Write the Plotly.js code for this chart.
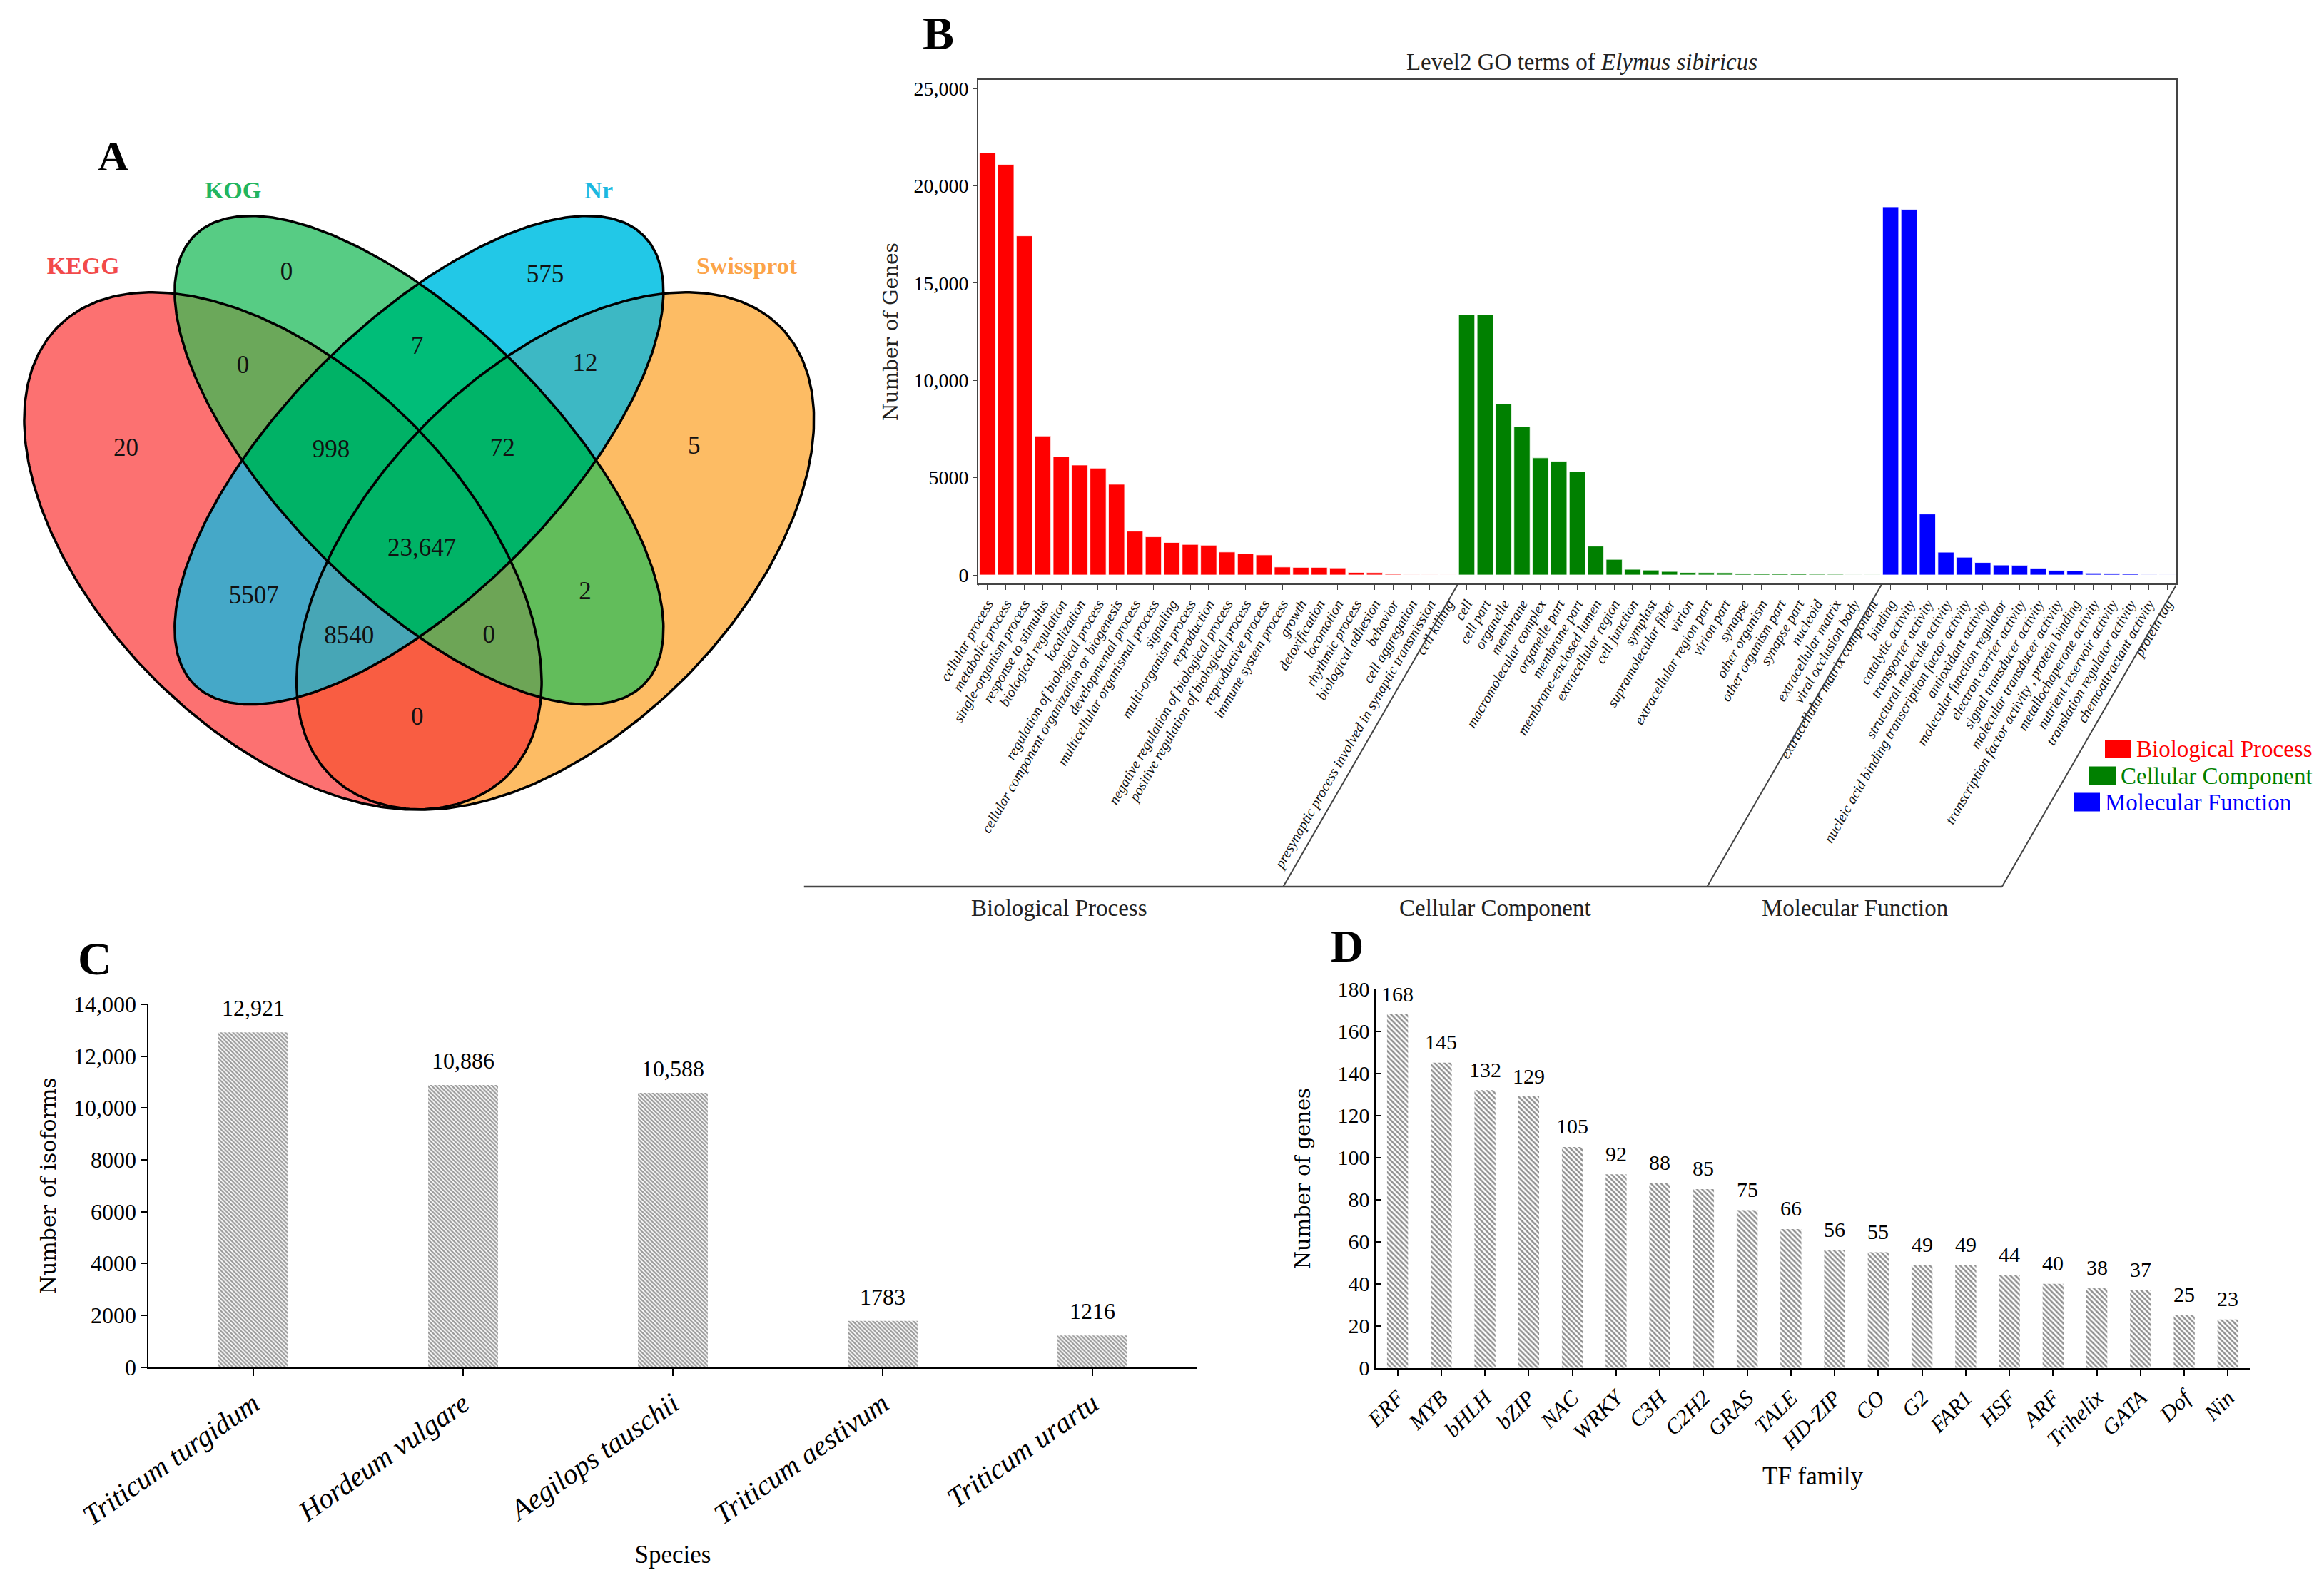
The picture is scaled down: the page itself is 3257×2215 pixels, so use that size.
<!DOCTYPE html>
<html><head><meta charset="utf-8">
<script src="https://cdn.plot.ly/plotly-3.0.1.min.js"></script>
<style>html,body{margin:0;padding:0;background:#fff}</style>
</head><body><div id="chart" style="width:3257px;height:2215px"></div>
<script>
// ================= DATA =================
// Panel A: Venn (region = membership of KEGG(K), KOG(G), Nr(N), Swissprot(S))
const vennSets = ['KEGG', 'KOG', 'Nr', 'Swissprot'];
const vennRegions = ['K','G','N','S','KG','KN','KS','GN','GS','NS','KGN','KGS','KNS','GNS','KGNS'];
const vennCounts  = [20, 0, 575, 5, 0, 5507, 0, 7, 2, 12, 998, 0, 8540, 72, 23647];

// Panel B: Level2 GO terms
const goGroups = ['Biological Process', 'Cellular Component', 'Molecular Function'];
const bpTerms = ['cellular process','metabolic process','single-organism process','response to stimulus','biological regulation','localization','regulation of biological process','cellular component organization or biogenesis','developmental process','multicellular organismal process','signaling','multi-organism process','reproduction','negative regulation of biological process','positive regulation of biological process','reproductive process','immune system process','growth','detoxification','locomotion','rhythmic process','biological adhesion','behavior','cell aggregation','presynaptic process involved in synaptic transmission','cell killing'];
const bpValues = [21700, 21100, 17430, 7140, 6080, 5650, 5490, 4660, 2250, 1960, 1670, 1570, 1530, 1180, 1090, 1030, 410, 390, 390, 360, 130, 120, 40, 10, 6, 3];
const ccTerms = ['cell','cell part','organelle','membrane','macromolecular complex','organelle part','membrane part','membrane-enclosed lumen','extracellular region','cell junction','symplast','supramolecular fiber','virion','extracellular region part','virion part','synapse','other organism','other organism part','synapse part','nucleoid','extracellular matrix','viral occlusion body','extracellular matrix component'];
const ccValues = [13380, 13380, 8790, 7610, 6020, 5840, 5320, 1480, 800, 290, 250, 180, 125, 120, 115, 75, 70, 65, 60, 40, 35, 15, 10];
const mfTerms = ['binding','catalytic activity','transporter activity','structural molecule activity','nucleic acid binding transcription factor activity','antioxidant activity','molecular function regulator','electron carrier activity','signal transducer activity','molecular transducer activity','transcription factor activity , protein binding','metallochaperone activity','nutrient reservoir activity','translation regulator activity','chemoattractant activity','protein tag'];
const mfValues = [18920, 18790, 3130, 1170, 910, 640, 510, 500, 350, 235, 215, 100, 80, 60, 20, 5];
const goTicks = [0, 5000, 10000, 15000, 20000, 25000];

// Panel C: homologous species
const species = ['Triticum turgidum', 'Hordeum vulgare', 'Aegilops tauschii', 'Triticum aestivum', 'Triticum urartu'];
const isoforms = [12921, 10886, 10588, 1783, 1216];
const isoTicks = [0, 2000, 4000, 6000, 8000, 10000, 12000, 14000];

// Panel D: TF families
const tfFamilies = ['ERF','MYB','bHLH','bZIP','NAC','WRKY','C3H','C2H2','GRAS','TALE','HD-ZIP','CO','G2','FAR1','HSF','ARF','Trihelix','GATA','Dof','Nin'];
const tfGenes = [168, 145, 132, 129, 105, 92, 88, 85, 75, 66, 56, 55, 49, 49, 44, 40, 38, 37, 25, 23];
const tfTicks = [0, 20, 40, 60, 80, 100, 120, 140, 160, 180];

// ================= STYLE / LAYOUT CONSTANTS =================
const W = 3257, H = 2215;
const px = x => x / W, py = y => 1 - y / H;
const SERIF = 'Liberation Serif, Times New Roman, serif';
const WIDE = 'DejaVu Serif, serif';
const fmt = v => v >= 10000 ? v.toLocaleString('en-US') : String(v);

const setColors = ['#F24A4A', '#22B55E', '#1CB8E0', '#FCA448'];
const regionColors = {K:'#FC7171', G:'#57CC84', N:'#22C8E7', S:'#FDBC64', KG:'#6BA85A', KN:'#45A8C8', KS:'#F95D42', GN:'#00BD78', GS:'#62BD5B', NS:'#3DB8C4', KGN:'#00B266', KGS:'#6DA556', KNS:'#47A6B6', GNS:'#00B468', KGNS:'#00B366'};
const goColors = ['#FF0000', '#008000', '#0000FF'];

// Venn geometry (unit square, VennDiagram quad layout)
const ellipses = [
  {cx:0.35, cy:0.47, a:0.35, b:0.20, rot:-45},
  {cx:0.50, cy:0.57, a:0.35, b:0.15, rot:-45},
  {cx:0.50, cy:0.57, a:0.35, b:0.15, rot: 45},
  {cx:0.65, cy:0.47, a:0.35, b:0.20, rot: 45}
];
const regionLabelPos = {K:[0.177,0.582], G:[0.354,0.776], N:[0.639,0.773], S:[0.803,0.584], KG:[0.306,0.673], KN:[0.318,0.419], KS:[0.498,0.285], GN:[0.498,0.694], GS:[0.683,0.424], NS:[0.683,0.675], KGN:[0.403,0.580], KGS:[0.577,0.376], KNS:[0.423,0.375], GNS:[0.592,0.582], KGNS:[0.503,0.472]};
const setLabelPos = [[0.130,0.782],[0.295,0.865],[0.698,0.865],[0.861,0.782]];
const U0 = 0.04, U1 = 0.96, V0 = 0.15, V1 = 0.90, STEP = 0.0015;
const VPX = 1272, VX0 = 34, VU0 = 0.065, VY0 = 303, VV0 = 0.839; // unit->pixel mapping

// ================= BUILD =================
const traces = [];
const letters = 'KGNS';
const code = r => letters.split('').reduce((s, c, i) => s + (r.includes(c) ? (1 << i) : 0), 0);

function inside(e, u, v) {
  const t = e.rot * Math.PI / 180, dx = u - e.cx, dy = v - e.cy;
  const xp = dx * Math.cos(t) + dy * Math.sin(t), yp = -dx * Math.sin(t) + dy * Math.cos(t);
  return xp * xp / (e.a * e.a) + yp * yp / (e.b * e.b) <= 1;
}
const hx = [], hy = [], hz = [];
for (let u = U0; u <= U1 + 1e-9; u += STEP) hx.push(u);
for (let v = V0; v <= V1 + 1e-9; v += STEP) hy.push(v);
for (const v of hy) {
  const row = [];
  for (const u of hx) {
    let c = 0;
    ellipses.forEach((e, i) => { if (inside(e, u, v)) c += (1 << i); });
    row.push(c === 0 ? null : c);
  }
  hz.push(row);
}
const byCode = {};
vennRegions.forEach(r => byCode[code(r)] = regionColors[r]);
const cs = [];
for (let k = 1; k <= 15; k++) { cs.push([(k - 1) / 15, byCode[k]]); cs.push([k / 15, byCode[k]]); }
traces.push({type:'heatmap', x:hx, y:hy, z:hz, xaxis:'x4', yaxis:'y4', colorscale:cs, zmin:0.5, zmax:15.5, showscale:false, zsmooth:false, hoverinfo:'skip'});

ellipses.forEach(e => {
  const xs = [], ys = [], t = e.rot * Math.PI / 180;
  for (let k = 0; k <= 360; k++) {
    const f = k * Math.PI / 180;
    xs.push(e.cx + e.a * Math.cos(f) * Math.cos(t) - e.b * Math.sin(f) * Math.sin(t));
    ys.push(e.cy + e.a * Math.cos(f) * Math.sin(t) + e.b * Math.sin(f) * Math.cos(t));
  }
  traces.push({type:'scatter', mode:'lines', x:xs, y:ys, xaxis:'x4', yaxis:'y4', line:{color:'#000', width:3.5}, hoverinfo:'skip', showlegend:false});
});
traces.push({type:'scatter', mode:'text', xaxis:'x4', yaxis:'y4', x:vennRegions.map(r => regionLabelPos[r][0]), y:vennRegions.map(r => regionLabelPos[r][1]), text:vennCounts.map(fmt), textfont:{family:SERIF, size:35, color:'#111'}, hoverinfo:'skip', showlegend:false});
traces.push({type:'scatter', mode:'text', xaxis:'x4', yaxis:'y4', x:setLabelPos.map(p => p[0]), y:setLabelPos.map(p => p[1]), text:vennSets.map(s => '<b>' + s + '</b>'), textfont:{family:SERIF, size:34, color:setColors}, hoverinfo:'skip', showlegend:false});

// Panel B bars
const goTermsAll = bpTerms.concat(ccTerms, mfTerms);
[[bpTerms, bpValues], [ccTerms, ccValues], [mfTerms, mfValues]].forEach((g, i) => {
  traces.push({type:'bar', name:goGroups[i], x:g[0], y:g[1], xaxis:'x', yaxis:'y', width:0.87, marker:{color:goColors[i], line:{color:'rgba(255,255,255,0.8)', width:1}}, showlegend:false, hoverinfo:'skip'});
});
// Panel C bars
traces.push({type:'bar', x:species, y:isoforms, xaxis:'x2', yaxis:'y2', width:0.333, marker:{color:'#ffffff', pattern:{shape:'\\', fillmode:'overlay', fgcolor:'#333333', size:4, solidity:0.55}}, showlegend:false, hoverinfo:'skip'});
// Panel D bars
traces.push({type:'bar', x:tfFamilies, y:tfGenes, xaxis:'x3', yaxis:'y3', width:0.48, marker:{color:'#ffffff', pattern:{shape:'\\', fillmode:'overlay', fgcolor:'#222222', size:5, solidity:0.5}}, showlegend:false, hoverinfo:'skip'});

// Annotations
const ann = [];
const letter = (t, x, y, s) => ann.push({text:'<b>' + t + '</b>', x:px(x), y:py(y), xref:'paper', yref:'paper', showarrow:false, font:{family:SERIF, size:s, color:'#000'}, xanchor:'center', yanchor:'middle'});
letter('A', 158, 219, 60); letter('B', 1315, 46, 66); letter('C', 133, 1343, 66); letter('D', 1888, 1326, 64);

species.forEach((s, i) => ann.push({x:s, y:isoforms[i], xref:'x2', yref:'y2', text:fmt(isoforms[i]), showarrow:false, yshift:34, yanchor:'middle', font:{family:SERIF, size:32, color:'#000'}}));
tfFamilies.forEach((s, i) => ann.push({x:s, y:tfGenes[i], xref:'x3', yref:'y3', text:fmt(tfGenes[i]), showarrow:false, yshift:29, yanchor:'middle', font:{family:SERIF, size:30, color:'#000'}}));

// B group brackets
const SLANT_DY = 423, SLANT_DX = SLANT_DY / Math.tan(60 * Math.PI / 180);
const groupSizes = [bpTerms.length, ccTerms.length, mfTerms.length];
const bounds = [-0.5];
groupSizes.forEach(n => bounds.push(bounds[bounds.length - 1] + n));
const shapes = [];
bounds.forEach(b => shapes.push({type:'line', xref:'x', xsizemode:'pixel', xanchor:b, x0:0, x1:-SLANT_DX, yref:'paper', y0:py(820), y1:py(820 + SLANT_DY), line:{color:'#444', width:2}}));
shapes.push({type:'line', xref:'paper', x0:px(1371 - SLANT_DX), x1:px(3050 - SLANT_DX), yref:'paper', y0:py(820 + SLANT_DY), y1:py(820 + SLANT_DY), line:{color:'#444', width:2.5}});
const groupLabelShift = [22, 0, 0];
goGroups.forEach((g, i) => ann.push({x:(bounds[i] + bounds[i + 1]) / 2, xref:'x', xshift:-SLANT_DX + groupLabelShift[i], y:py(1273), yref:'paper', text:g, showarrow:false, font:{family:SERIF, size:33, color:'#222'}, xanchor:'center', yanchor:'middle'}));

// B legend (colour keys)
const legendRows = [[2950, 1050], [2928, 1087.5], [2906, 1124.5]];
goGroups.forEach((g, i) => {
  const [lx, ly] = legendRows[i];
  shapes.push({type:'rect', xref:'paper', yref:'paper', x0:px(lx), x1:px(lx + 37), y0:py(ly - 13), y1:py(ly + 13), fillcolor:goColors[i], line:{width:0}});
  ann.push({x:px(lx + 42), y:py(ly), xref:'paper', yref:'paper', text:g, showarrow:false, xanchor:'left', yanchor:'middle', font:{family:SERIF, size:33, color:goColors[i]}});
});

const tickFont = s => ({family:SERIF, size:s, color:'#000'});
const layout = {
  width: W, height: H, margin:{l:0, r:0, t:0, b:0, pad:0}, autosize:false,
  paper_bgcolor:'#fff', plot_bgcolor:'rgba(0,0,0,0)', hovermode:false, barmode:'overlay', showlegend:false,
  font:{family:SERIF, color:'#000'},
  title:{text:'Level2 GO terms of <i>Elymus sibiricus</i>', font:{family:SERIF, size:33, color:'#222'}, x:px(2217), xanchor:'center', y:py(86), yanchor:'middle', xref:'paper', yref:'paper'},
  // Panel B
  xaxis:{domain:[px(1371), px(3050)], anchor:'y', type:'category', categoryorder:'array', categoryarray:goTermsAll, range:[-0.5, goTermsAll.length - 0.5],
         tickmode:'array', tickvals:goTermsAll, ticktext:goTermsAll, tickangle:-60, tickfont:{family:SERIF, size:20, color:'#111', style:'italic'},
         ticks:'outside', ticklen:7, tickcolor:'#444', showline:true, linecolor:'#444', linewidth:2, mirror:true, showgrid:false, zeroline:false},
  yaxis:{domain:[py(818), py(112)], anchor:'x', range:[-440, 25447], tickmode:'array', tickvals:goTicks, ticktext:goTicks.map(fmt), tickfont:tickFont(28),
         ticks:'outside', ticklen:6, tickcolor:'#444', showline:true, linecolor:'#444', linewidth:2, mirror:true, showgrid:false, zeroline:false,
         title:{text:'Number of Genes', font:{family:WIDE, size:28, color:'#222'}, standoff:14}},
  // Panel C
  xaxis2:{domain:[px(208), px(1678)], anchor:'y2', type:'category', range:[-0.5, species.length - 0.5], tickmode:'array', tickvals:species, ticktext:species,
          tickangle:-35, tickfont:{family:SERIF, size:40, color:'#000', style:'italic'}, ticks:'outside', ticklen:10, tickwidth:2, tickcolor:'#000',
          showline:true, linecolor:'#000', linewidth:2.5, showgrid:false, zeroline:false,
          title:{text:'Species', font:{family:SERIF, size:35, color:'#000'}, standoff:20}},
  yaxis2:{domain:[py(1916.5), py(1408)], anchor:'x2', range:[0, 14000], tickmode:'array', tickvals:isoTicks, ticktext:isoTicks.map(fmt), tickfont:tickFont(32),
          ticks:'outside', ticklen:8, tickwidth:2, tickcolor:'#000', showline:true, linecolor:'#000', linewidth:2.5, showgrid:false, zeroline:false,
          title:{text:'Number of isoforms', font:{family:WIDE, size:30, color:'#000'}, standoff:16}},
  // Panel D
  xaxis3:{domain:[px(1928), px(3153)], anchor:'y3', type:'category', range:[-0.5, tfFamilies.length - 0.5], tickmode:'array', tickvals:tfFamilies, ticktext:tfFamilies,
          tickangle:-45, tickfont:{family:SERIF, size:31, color:'#000', style:'italic'}, ticks:'outside', ticklen:9, tickwidth:2, tickcolor:'#000',
          showline:true, linecolor:'#000', linewidth:2.5, showgrid:false, zeroline:false,
          title:{text:'TF family', font:{family:SERIF, size:35, color:'#000'}, standoff:18}},
  yaxis3:{domain:[py(1917.7), py(1386.6)], anchor:'x3', range:[0, 180], tickmode:'array', tickvals:tfTicks, ticktext:tfTicks.map(fmt), tickfont:tickFont(30),
          ticks:'inside', ticklen:8, tickwidth:2, tickcolor:'#000', showline:true, linecolor:'#000', linewidth:2.5, showgrid:false, zeroline:false,
          title:{text:'Number of genes', font:{family:WIDE, size:29, color:'#000'}, standoff:30}},
  // Panel A (venn canvas)
  xaxis4:{domain:[px(VX0 + (U0 - VU0) * VPX), px(VX0 + (U1 - VU0) * VPX)], anchor:'y4', range:[U0, U1], visible:false, fixedrange:true},
  yaxis4:{domain:[py(VY0 + (VV0 - V0) * VPX), py(VY0 + (VV0 - V1) * VPX)], anchor:'x4', range:[V0, V1], visible:false, fixedrange:true},
  annotations: ann, shapes: shapes
};
Plotly.newPlot('chart', traces, layout, {staticPlot:true, displayModeBar:false});
</script>
</body></html>
